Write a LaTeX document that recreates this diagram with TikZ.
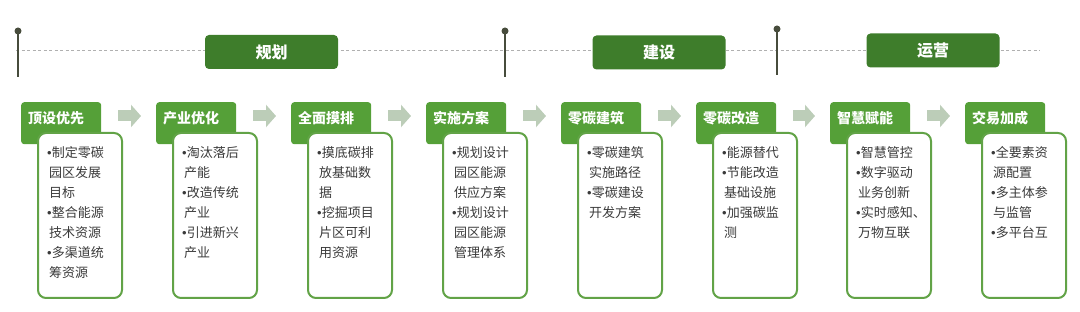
\documentclass[tikz,border=0pt]{standalone}
\usepackage{fontspec}
\setmainfont{Noto Sans CJK SC}
\newfontfamily\bulletfont{Liberation Sans}
\usetikzlibrary{arrows.meta,calc}
\definecolor{phasegreen}{HTML}{3E7D2B}
\definecolor{headgreen}{HTML}{55A038}
\definecolor{bordergreen}{HTML}{62A347}
\definecolor{arrowgray}{HTML}{BCCDB8}
\definecolor{pingray}{HTML}{474C3C}
\definecolor{textgray}{HTML}{3A3A3A}
\definecolor{dashgray}{HTML}{B0B0B0}
\newcommand{\bul}{{\bulletfont •}}
\newcommand{\cnt}{\hspace*{2pt}}
\newcommand{\stagecol}[5]{%
  \node[head] (h#1) at (#2,102) {};
  \node[headtxt] (ht#1) at ($(h#1.north west)+(7,16)$) {#3};
  \node[bodybox] (b#1) at ($(h#1.north west)+(16,30)$) {};
  \node[bodytxt] (bt#1) at ($(b#1.north west)+(10,14)$) {#4};
}
\begin{document}
\begin{tikzpicture}[x=1pt,y=-1pt,
  phase/.style={fill=phasegreen, rounded corners=4pt, minimum width=133pt, minimum height=34pt,
    text=white, font=\fontsize{16}{16}\selectfont\bfseries, inner sep=0pt},
  head/.style={fill=headgreen, rounded corners=3pt, minimum width=80pt, minimum height=42pt,
    anchor=north west, inner sep=0pt},
  headtxt/.style={anchor=west, text=white, font=\fontsize{14}{14}\selectfont\bfseries, inner sep=0pt},
  bodybox/.style={draw=bordergreen, line width=2pt, fill=white, rounded corners=8pt,
    minimum width=84pt, minimum height=165pt, anchor=north west, inner sep=0pt},
  bodytxt/.style={anchor=north west, align=left, text=textgray, inner sep=0pt,
    font=\fontsize{13}{20}\selectfont},
  flow/.style={draw=arrowgray, line width=11pt, -{Triangle[length=10pt,width=22pt]},
    shorten <=17pt, shorten >=15pt},
  pinline/.style={draw=pingray, line width=2pt},
  timeline/.style={draw=dashgray, line width=0.8pt, dash pattern=on 3pt off 2.5pt}
]
\useasboundingbox (0,0) rectangle (1080,312);

% timeline
\coordinate (tlA) at (16,50);
\coordinate (tlB) at (1040,50);
\draw[timeline] (tlA) -- (tlB);
\draw[pinline] (18,31) -- (18,77);
\fill[pingray] (18,31) circle (3.5pt);
\draw[pinline] (505,31) -- (505,77);
\fill[pingray] (505,31) circle (3.5pt);
\draw[pinline] (777,29) -- (777,75);
\fill[pingray] (777,29) circle (3.5pt);
\node[phase] (p1) at (271.5,52) {规划};
\node[phase] (p2) at (659,52.5) {建设};
\node[phase] (p3) at (933,50.5) {运营};

% stages
\stagecol{1}{21}{顶设优先}{\bul 制定零碳\\\cnt 园区发展\\\cnt 目标\\\bul 整合能源\\\cnt 技术资源\\\bul 多渠道统\\\cnt 筹资源}{}
\stagecol{2}{156}{产业优化}{\bul 淘汰落后\\\cnt 产能\\\bul 改造传统\\\cnt 产业\\\bul 引进新兴\\\cnt 产业}{}
\stagecol{3}{291}{全面摸排}{\bul 摸底碳排\\\cnt 放基础数\\\cnt 据\\\bul 挖掘项目\\\cnt 片区可利\\\cnt 用资源}{}
\stagecol{4}{426}{实施方案}{\bul 规划设计\\\cnt 园区能源\\\cnt 供应方案\\\bul 规划设计\\\cnt 园区能源\\\cnt 管理体系}{}
\stagecol{5}{561}{零碳建筑}{\bul 零碳建筑\\\cnt 实施路径\\\bul 零碳建设\\\cnt 开发方案}{}
\stagecol{6}{696}{零碳改造}{\bul 能源替代\\\bul 节能改造\\\cnt 基础设施\\\bul 加强碳监\\\cnt 测}{}
\stagecol{7}{830}{智慧赋能}{\bul 智慧管控\\\bul 数字驱动\\\cnt 业务创新\\\bul 实时感知、\\\cnt 万物互联}{}
\stagecol{8}{965}{交易加成}{\bul 全要素资\\\cnt 源配置\\\bul 多主体参\\\cnt 与监管\\\bul 多平台互}{}

% arrows
\draw[flow] ($(h1.north east)+(0,14)$) -- ($(h2.north west)+(0,14)$);
\draw[flow] ($(h2.north east)+(0,14)$) -- ($(h3.north west)+(0,14)$);
\draw[flow] ($(h3.north east)+(0,14)$) -- ($(h4.north west)+(0,14)$);
\draw[flow] ($(h4.north east)+(0,14)$) -- ($(h5.north west)+(0,14)$);
\draw[flow] ($(h5.north east)+(0,14)$) -- ($(h6.north west)+(0,14)$);
\draw[flow] ($(h6.north east)+(0,14)$) -- ($(h7.north west)+(0,14)$);
\draw[flow] ($(h7.north east)+(0,14)$) -- ($(h8.north west)+(0,14)$);
\end{tikzpicture}
\end{document}
